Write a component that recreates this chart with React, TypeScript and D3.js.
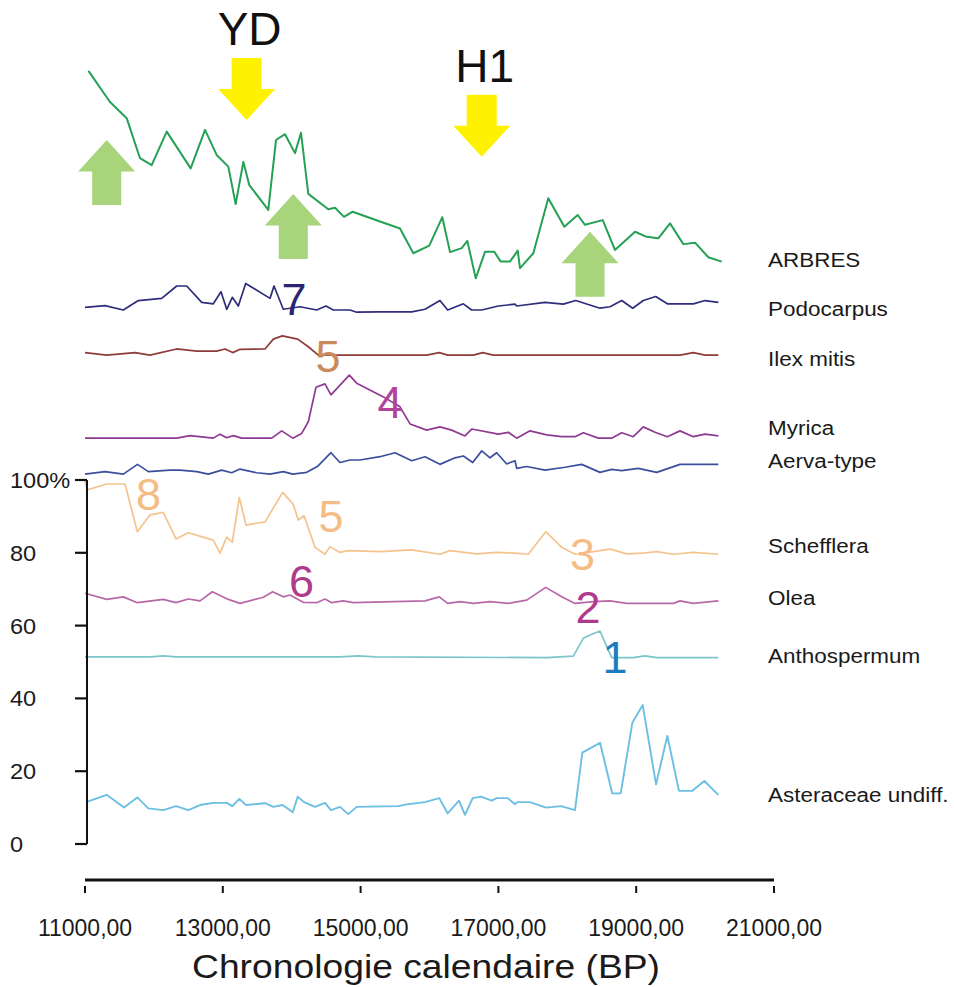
import React from "react";
import * as d3 from "d3";

type P = [number, number];

// Age (BP) / value (in the diagram's % units, curves stacked on one axis)
const arbres: P[] = [
  [11050, 212.4], [11360, 203.9], [11605, 199.4], [11798, 188.4], [11968, 186.5], [12186, 195.7],
  [12534, 185.6], [12742, 196.2], [12911, 189.3], [13080, 186.1], [13187, 175.8], [13298, 187.4],
  [13385, 181.0], [13660, 174.2], [13772, 193.4], [13903, 195.0], [14048, 189.8], [14135, 195.4],
  [14241, 178.6], [14531, 174.4], [14629, 174.8], [14759, 172.3], [14885, 173.7], [15282, 171.0],
  [15572, 169.1], [15765, 162.3], [15997, 164.4], [16186, 172.2], [16298, 162.6], [16467, 163.7],
  [16549, 165.7], [16671, 155.4], [16806, 162.7], [16941, 162.7], [17033, 160.0], [17168, 160.0],
  [17280, 163.0], [17314, 158.2], [17507, 162.3], [17724, 177.4], [17957, 169.6], [18151, 172.8],
  [18257, 170.1], [18514, 171.4], [18692, 163.2], [18983, 168.2], [19152, 166.8], [19321, 166.4],
  [19491, 170.5], [19684, 164.8], [19854, 165.2], [20047, 161.2], [20241, 160.0],
];

const podocarpus: P[] = [
  [11000, 147.4], [11290, 147.9], [11556, 146.7], [11774, 149.3], [12113, 149.9], [12331, 153.3],
  [12476, 153.3], [12694, 148.8], [12862, 148.4], [12974, 151.7], [13057, 146.9], [13138, 150.2],
  [13225, 147.8], [13332, 154.0], [13685, 149.9], [13743, 153.3], [13878, 146.9], [14120, 147.6],
  [14363, 146.7], [14498, 147.8], [14604, 146.7], [14846, 146.7], [14944, 146.1], [15282, 146.2],
  [15742, 146.2], [15935, 146.9], [16152, 149.3], [16264, 146.7], [16491, 148.4], [16613, 146.7],
  [16758, 146.7], [16999, 147.8], [17241, 148.3], [17266, 147.8], [17676, 148.8], [17942, 148.3],
  [18122, 149.3], [18475, 147.2], [18620, 147.6], [18790, 149.3], [18949, 147.2], [19103, 149.3],
  [19283, 150.4], [19452, 148.4], [19829, 148.4], [19999, 149.3], [20192, 148.8],
];

const ilexMitis: P[] = [
  [11000, 135.0], [11315, 134.3], [11726, 135.0], [11943, 134.3], [12331, 136.0], [12621, 135.4],
  [12911, 135.4], [13032, 136.0], [13144, 135.0], [13250, 135.9], [13612, 136.0], [13733, 138.7],
  [13864, 139.6], [14087, 138.7], [14241, 136.6], [14386, 134.3], [15959, 134.3], [16142, 135.0],
  [16264, 134.3], [16636, 134.3], [16772, 135.0], [16926, 134.3], [19636, 134.3], [19829, 135.0],
  [19999, 134.3], [20192, 134.3],
];

const myrica: P[] = [
  [11000, 111.5], [12331, 111.5], [12524, 112.2], [12862, 111.5], [12959, 112.6], [13057, 111.6],
  [13152, 112.2], [13274, 111.5], [13710, 111.5], [13855, 113.5], [14015, 111.5], [14145, 112.8],
  [14241, 116.0], [14353, 125.5], [14483, 126.4], [14570, 123.4], [14836, 128.8], [14943, 126.6],
  [15325, 122.9], [15572, 120.1], [15717, 115.4], [15959, 113.7], [16152, 114.6], [16322, 113.7],
  [16515, 112.1], [16613, 114.0], [16999, 112.6], [17144, 113.1], [17266, 111.5], [17459, 113.5],
  [17701, 112.4], [17919, 111.9], [18112, 111.9], [18232, 113.0], [18450, 111.5], [18644, 111.5],
  [18790, 113.0], [18958, 111.9], [19103, 114.6], [19273, 113.1], [19452, 111.9], [19636, 113.5],
  [19829, 111.9], [19999, 112.6], [20192, 112.1],
];

const aervaType: P[] = [
  [11000, 101.6], [11290, 102.3], [11556, 101.6], [11762, 104.3], [11919, 102.3], [12234, 102.7],
  [12379, 102.7], [12621, 102.3], [12790, 101.6], [12984, 102.7], [13129, 102.0], [13250, 103.0],
  [13492, 102.0], [13685, 101.6], [13878, 102.3], [14015, 101.6], [14218, 102.1], [14372, 103.7],
  [14570, 107.5], [14701, 104.8], [14846, 105.5], [14991, 105.5], [15282, 106.4], [15500, 107.5],
  [15742, 105.3], [15935, 106.4], [16152, 104.3], [16370, 106.1], [16491, 106.6], [16627, 104.8],
  [16758, 108.0], [16878, 106.1], [16975, 107.5], [17120, 104.4], [17241, 105.3], [17266, 103.2],
  [17411, 103.7], [17676, 102.7], [17967, 103.5], [18209, 104.3], [18475, 102.1], [18644, 102.9],
  [18790, 102.6], [19031, 103.2], [19298, 102.1], [19636, 104.3], [20192, 104.3],
];

const schefflera: P[] = [
  [11000, 99.7], [11030, 97.3], [11315, 98.9], [11581, 98.9], [11759, 85.8], [11943, 90.4],
  [12136, 91.1], [12321, 83.8], [12499, 85.5], [12862, 83.5], [12959, 79.9], [13057, 84.3],
  [13138, 82.9], [13240, 95.2], [13337, 87.6], [13613, 88.5], [13869, 96.6], [14023, 93.3],
  [14096, 89.0], [14179, 90.2], [14338, 81.5], [14483, 79.6], [14556, 81.7], [14701, 80.1],
  [14822, 80.6], [15282, 80.3], [15742, 80.8], [16152, 79.6], [16298, 80.6], [16685, 79.7],
  [16975, 80.1], [17241, 79.9], [17434, 79.6], [17687, 85.8], [17919, 81.5], [18112, 79.6],
  [18378, 80.3], [18620, 81.0], [18862, 79.7], [19103, 79.9], [19298, 80.3], [19539, 79.6],
  [19829, 80.1], [20192, 79.6],
];

const olea: P[] = [
  [11000, 68.9], [11315, 67.2], [11556, 67.9], [11759, 66.3], [12136, 67.2], [12321, 66.3],
  [12499, 67.3], [12669, 66.8], [12848, 69.3], [13080, 67.2], [13250, 66.1], [13588, 67.8],
  [13724, 69.3], [13878, 67.9], [13975, 68.4], [14168, 66.4], [14363, 66.3], [14483, 67.3],
  [14581, 66.3], [14749, 66.8], [14894, 66.3], [15935, 66.8], [16142, 67.9], [16264, 66.1],
  [16443, 66.6], [16636, 66.1], [16878, 66.6], [17144, 66.1], [17411, 67.0], [17687, 70.5],
  [17919, 67.9], [18112, 66.1], [18378, 66.6], [18620, 66.8], [18862, 66.1], [19539, 66.1],
  [19636, 66.8], [19829, 66.1], [20192, 66.8],
];

const anthospermum: P[] = [
  [11000, 51.4], [11943, 51.4], [12136, 51.7], [12321, 51.4], [14701, 51.4], [14962, 51.7],
  [15209, 51.4], [17701, 51.2], [18087, 51.6], [18232, 56.5], [18305, 57.2], [18475, 58.5],
  [18644, 51.2], [18958, 51.2], [19128, 51.7], [19298, 51.2], [20192, 51.2],
];

const asteraceae: P[] = [
  [11025, 11.6], [11315, 13.5], [11566, 10.0], [11759, 12.8], [11919, 9.8], [12136, 9.3],
  [12321, 10.4], [12499, 9.3], [12669, 10.7], [12862, 11.3], [13057, 11.3], [13138, 10.4],
  [13240, 12.4], [13337, 10.7], [13613, 11.2], [13733, 10.2], [13869, 10.7], [14015, 8.7],
  [14087, 13.0], [14179, 11.5], [14338, 10.2], [14483, 11.3], [14570, 9.3], [14701, 10.2],
  [14822, 8.2], [14943, 10.2], [15547, 10.4], [15669, 10.9], [15935, 11.5], [16142, 12.6],
  [16264, 8.4], [16428, 11.9], [16515, 8.0], [16627, 12.6], [16748, 13.0], [16903, 11.9],
  [16975, 12.6], [17135, 12.6], [17241, 10.9], [17274, 11.5], [17459, 11.5], [17691, 10.0],
  [17909, 10.4], [18112, 9.3], [18218, 25.1], [18475, 27.8], [18653, 13.9], [18775, 13.9],
  [18944, 33.3], [19094, 38.2], [19288, 16.4], [19452, 29.7], [19621, 14.6], [19815, 14.6],
  [19989, 17.3], [20192, 13.5],
];

const seriesNames = ["ARBRES", "Podocarpus", "Ilex mitis", "Myrica", "Aerva-type", "Schefflera", "Olea", "Anthospermum", "Asteraceae undiff."];
const seriesData = [arbres, podocarpus, ilexMitis, myrica, aervaType, schefflera, olea, anthospermum, asteraceae];

const xTicks = [11000, 13000, 15000, 17000, 19000, 21000];
const yTicks = [0, 20, 40, 60, 80, 100];

// zone numbers: label, age, value
const zoneLabels = ["7", "5", "4", "8", "5", "6", "3", "2", "1"];
const zoneAges = [14033, 14527, 15427, 11922, 14570, 14142, 18221, 18300, 18692];
const zoneValues = [145.3, 129.7, 117.0, 91.8, 85.7, 67.9, 75.3, 60.7, 47.0];

// events (down arrows) and recoveries (up arrows): tip age / value
const eventNames = ["YD", "H1"];
const eventAges = [13346, 16758];
const eventTipValues = [198.9, 188.8];
const upArrowAges = [11315, 14023, 18330];
const upArrowTipValues = [193.4, 178.6, 168.2];

// layout / styles (not data)
const W = 954, H = 987;
const seriesColors = ["#26a055", "#2f2c7c", "#8e3c3a", "#8e3a92", "#3c4f9c", "#f5c38e", "#b868a8", "#7cc6c9", "#6cbfe2"];
const seriesWidths = [2, 1.7, 1.7, 1.7, 1.7, 1.7, 1.7, 1.7, 1.9];
const seriesLabelY = [266.7, 316, 366, 435, 468.3, 553.3, 605, 663.3, 801.7];
const zoneColors = ["#2a2474", "#c98a5c", "#b0449a", "#f6bc85", "#f6bc85", "#b03a8c", "#f5bd85", "#b03a8c", "#1c7cc0"];
const FONT = "'Liberation Sans', Arial, Helvetica, sans-serif";

export default function App() {
  const x = d3.scaleLinear().domain([11000, 21000]).range([85, 774]);
  const y = d3.scaleLinear().domain([0, 100]).range([844, 480]);
  const line = d3.line<P>().x(d => x(d[0])).y(d => y(d[1]));
  const fmt = (d: number) => d3.format(".2f")(d).replace(".", ",");

  const downArrow = (cx: number, tipY: number) => {
    const hw = 28.5, sw = 15, hh = 31, len = 62;
    return `M${cx - sw},${tipY - len} L${cx + sw},${tipY - len} L${cx + sw},${tipY - hh} L${cx + hw},${tipY - hh} L${cx},${tipY} L${cx - hw},${tipY - hh} L${cx - sw},${tipY - hh} Z`;
  };
  const upArrow = (cx: number, tipY: number) => {
    const hw = 28.5, sw = 14.5, hh = 31.5, len = 65;
    return `M${cx - sw},${tipY + len} L${cx + sw},${tipY + len} L${cx + sw},${tipY + hh} L${cx + hw},${tipY + hh} L${cx},${tipY} L${cx - hw},${tipY + hh} L${cx - sw},${tipY + hh} Z`;
  };

  return (
    <svg width={W} height={H} style={{ position: "absolute", left: 0, top: 0, display: "block", background: "#fff" }} fontFamily={FONT}>
      <rect width={W} height={H} fill="#fff" />
      {/* arrows */}
      {upArrowAges.map((a, i) => (
        <path key={"u" + i} d={upArrow(x(a), y(upArrowTipValues[i]))} fill="#a8d47c" />
      ))}
      {eventAges.map((a, i) => (
        <g key={"e" + i}>
          <path d={downArrow(x(a), y(eventTipValues[i]))} fill="#fff200" />
          <text x={x(a) + 3} y={y(eventTipValues[i]) - 75} textAnchor="middle" fontSize={46} fill="#111">{eventNames[i]}</text>
        </g>
      ))}
      {/* curves */}
      {seriesData.map((d, i) => (
        <path key={"s" + i} d={line(d) || ""} fill="none" stroke={seriesColors[i]} strokeWidth={seriesWidths[i]} strokeLinejoin="round" />
      ))}
      {/* zone numbers */}
      {zoneLabels.map((t, i) => (
        <text key={"z" + i} x={x(zoneAges[i])} y={y(zoneValues[i])} textAnchor="middle" fontSize={45} fill={zoneColors[i]}>{t}</text>
      ))}
      {/* series labels */}
      <g transform="translate(768,0) scale(1.07,1)">
        {seriesNames.map((n, i) => (
          <text key={"n" + i} x={0} y={seriesLabelY[i]} fontSize={21} fill="#1a1a1a">{n}</text>
        ))}
      </g>
      {/* y axis */}
      <line x1={87} x2={87} y1={y(100)} y2={y(0)} stroke="#111" strokeWidth={2} />
      {yTicks.map(t => (
        <g key={"yt" + t}>
          <line x1={75} x2={87} y1={y(t)} y2={y(t)} stroke="#111" strokeWidth={2.2} />
          <g transform={`translate(10,${y(t) + 8}) scale(1.07,1)`}>
            <text x={0} y={0} fontSize={22} fill="#1a1a1a">{t === 100 ? "100%" : String(t)}</text>
          </g>
        </g>
      ))}
      {/* x axis */}
      <line x1={x(11000)} x2={x(21000)} y1={880} y2={880} stroke="#111" strokeWidth={3} />
      {xTicks.map(t => (
        <g key={"xt" + t}>
          <line x1={x(t)} x2={x(t)} y1={886} y2={893} stroke="#111" strokeWidth={2} />
          <text x={x(t)} y={936} textAnchor="middle" fontSize={23} fill="#1a1a1a">{fmt(t)}</text>
        </g>
      ))}
      <text x={426} y={978} textAnchor="middle" fontSize={33} textLength={468} lengthAdjust="spacingAndGlyphs" fill="#1a1a1a">Chronologie calendaire (BP)</text>
    </svg>
  );
}
